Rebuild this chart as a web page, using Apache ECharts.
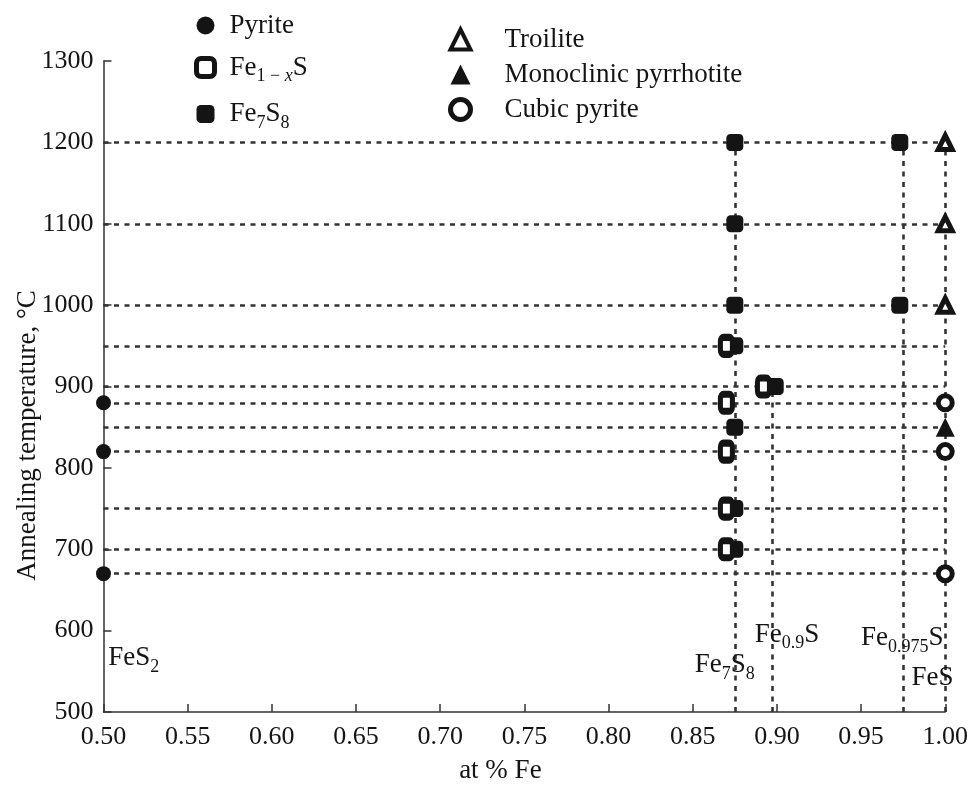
<!DOCTYPE html>
<html>
<head>
<meta charset="utf-8">
<script src="https://cdn.jsdelivr.net/npm/echarts@6/dist/echarts.min.js"></script>
<style>
  html, body { margin: 0; background: #fff; }
  #main { width: 971px; height: 790px; }
</style>
</head>
<body>
<div id="main"></div>
<script>
// x = Fe/S ratio ("at % Fe"), y = annealing temperature, °C
const pyriteT = [880, 820, 670];                 // at x = 0.50
const fe1xS = [[0.870, 950], [0.870, 880], [0.870, 820], [0.870, 750], [0.870, 700], [0.892, 900]];
const fe7S8 = [[0.875, 1200], [0.875, 1100], [0.875, 1000], [0.875, 950], [0.875, 850],
               [0.875, 750], [0.875, 700], [0.899, 900], [0.973, 1200], [0.973, 1000]];
const troiliteT = [1200, 1100, 1000];            // at x = 1.00
const monoT = [850];                             // at x = 1.00
const cubicT = [880, 820, 670];                  // at x = 1.00

// dotted guide lines
const levelT = [1200, 1100, 1000, 950, 900, 880, 850, 820, 750, 700, 670];
const phaseX = [0.875, 0.897, 0.975, 1.0];
const phaseTop = [1200, 900, 1200, 1200];

// phase labels
const labelText = ['{b|FeS}{s|2}', '{b|Fe}{s|7}{b|S}{s|8}', '{b|Fe}{s|0.9}{b|S}', '{b|Fe}{s|0.975}{b|S}', '{b|FeS}'];
const labelAt = [[0.518, 566], [0.869, 558], [0.906, 595], [0.9745, 591], [0.9924, 542]];

const FONT = '"Liberation Serif", "DejaVu Serif", serif';
const INK = '#141414';

const rich = {
  g: { width: 10 },
  b: { fontFamily: FONT, fontSize: 27, color: INK, lineHeight: 36 },
  s: { fontFamily: FONT, fontSize: 18, color: INK, lineHeight: 20, verticalAlign: 'bottom' },
  si: { fontFamily: FONT, fontSize: 18, color: INK, lineHeight: 20, verticalAlign: 'bottom', fontStyle: 'italic' }
};
const legendNames = {
  'Pyrite': '{g|}{b|Pyrite}',
  'Fe1-xS': '{g|}{b|Fe}{s|1 \u2212 }{si|x}{b|S}',
  'Fe7S8': '{g|}{b|Fe}{s|7}{b|S}{s|8}',
  'Troilite': '{G|}{c|Troilite}',
  'Monoclinic pyrrhotite': '{G|}{c|Monoclinic pyrrhotite}',
  'Cubic pyrite': '{G|}{c|Cubic pyrite}'
};

const chart = echarts.init(document.getElementById('main'));

const hLines = levelT.map(t => [{ coord: [0.5, t] }, { coord: [1.0, t] }]);
const vLines = phaseX.map((x, i) => [{ coord: [x, 500] }, { coord: [x, phaseTop[i]] }]);

const hollow = { color: '#fff', borderColor: INK, borderWidth: 5, opacity: 1 };
const solid = { color: INK, opacity: 1 };

const option = {
  backgroundColor: '#fff',
  animation: false,
  grid: { left: 103.5, right: 25, top: 61, bottom: 78 },
  legend: [
    {
      data: [
        { name: 'Pyrite', itemStyle: solid },
        { name: 'Fe1-xS', itemStyle: hollow },
        { name: 'Fe7S8', itemStyle: solid }
      ],
      orient: 'vertical', left: 189, top: 7, itemGap: 15,
      itemWidth: 18, itemHeight: 18, selectedMode: false,
      formatter: n => legendNames[n],
      textStyle: { rich: rich }
    },
    {
      data: [
        { name: 'Troilite', itemStyle: { color: '#fff', borderColor: INK, borderWidth: 4 } },
        { name: 'Monoclinic pyrrhotite', itemStyle: solid },
        { name: 'Cubic pyrite', itemStyle: hollow }
      ],
      orient: 'vertical', left: 443, top: 21, itemGap: 8,
      itemWidth: 20, itemHeight: 20, selectedMode: false,
      formatter: n => legendNames[n],
      textStyle: { rich: {
        G: { width: 29 },
        c: { fontFamily: FONT, fontSize: 27, color: INK, lineHeight: 31 }
      } }
    }
  ],
  xAxis: {
    type: 'value', min: 0.5, max: 1.0, interval: 0.05,
    name: 'at % Fe', nameLocation: 'middle', nameGap: 45, nameMoveOverlap: false,
    nameTextStyle: { fontFamily: FONT, fontSize: 27, color: INK, padding: [0, 48, 0, 0] },
    axisLine: { lineStyle: { color: '#333', width: 1.5 } },
    axisTick: { inside: true, length: 8, lineStyle: { color: '#333', width: 1.5 } },
    axisLabel: { fontFamily: FONT, fontSize: 26, color: INK, margin: 12,
                 formatter: v => v.toFixed(2) },
    splitLine: { show: false }
  },
  yAxis: {
    type: 'value', min: 500, max: 1300, interval: 100,
    name: 'Annealing temperature, \u00B0C', nameLocation: 'middle', nameGap: 62, nameMoveOverlap: false,
    nameTextStyle: { fontFamily: FONT, fontSize: 27, color: INK, padding: [0, 98, 0, 0] },
    axisLine: { show: true, lineStyle: { color: '#333', width: 1.5 } },
    axisTick: { show: true, inside: true, length: 8, lineStyle: { color: '#333', width: 1.5 } },
    axisLabel: { fontFamily: FONT, fontSize: 26, color: INK, margin: 10,
                 formatter: v => String(v) },
    splitLine: { show: false }
  },
  series: [
    {
      name: 'guides', type: 'line', data: [], silent: true, z: 1,
      markLine: {
        z: 1, silent: true, symbol: 'none', animation: false,
        label: { show: false },
        lineStyle: { color: '#333', width: 2.6, type: [5, 5.5], opacity: 1 },
        emphasis: { disabled: true },
        data: hLines.concat(vLines)
      }
    },
    {
      name: 'Pyrite', type: 'scatter', z: 3,
      symbol: 'circle', symbolSize: 15,
      itemStyle: solid,
      data: pyriteT.map(t => [0.5, t])
    },
    {
      name: 'Fe7S8', type: 'scatter', z: 3,
      symbol: 'roundRect', symbolSize: 17,
      itemStyle: solid,
      data: fe7S8
    },
    {
      name: 'Fe1-xS', type: 'scatter', z: 4,
      symbol: 'roundRect', symbolSize: [12, 17],
      itemStyle: { color: '#fff', borderColor: INK, borderWidth: 6, opacity: 1 },
      data: fe1xS
    },
    {
      name: 'Troilite', type: 'scatter', z: 3,
      symbol: 'triangle', symbolSize: [14, 14],
      itemStyle: hollow,
      data: troiliteT.map(t => [1.0, t])
    },
    {
      name: 'Monoclinic pyrrhotite', type: 'scatter', z: 3,
      symbol: 'triangle', symbolSize: [19, 19],
      itemStyle: solid,
      data: monoT.map(t => [1.0, t])
    },
    {
      name: 'Cubic pyrite', type: 'scatter', z: 3,
      symbol: 'circle', symbolSize: 14,
      itemStyle: hollow,
      data: cubicT.map(t => [1.0, t])
    },
    {
      name: 'labels', type: 'scatter', z: 5, silent: true,
      symbolSize: 0,
      itemStyle: { opacity: 1 },
      data: labelAt.map((p, i) => ({ value: p, text: labelText[i] })),
      label: {
        show: true, position: 'inside',
        formatter: p => p.data.text,
        rich: rich
      }
    }
  ]
};
chart.setOption(option);
</script>
</body>
</html>
